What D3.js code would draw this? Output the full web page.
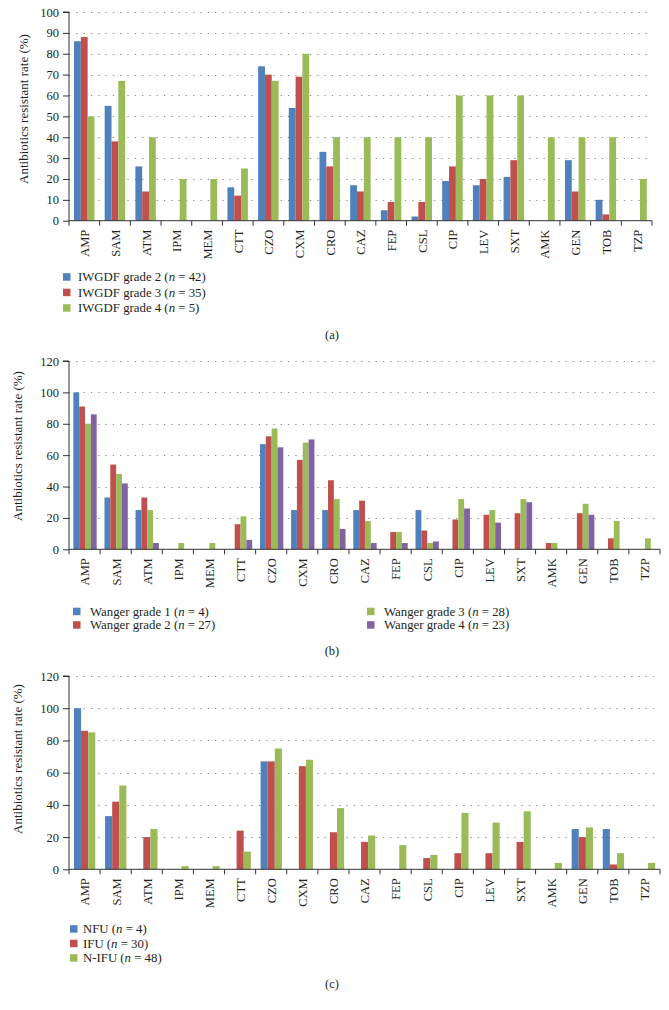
<!DOCTYPE html>
<html><head><meta charset="utf-8">
<script src="https://cdn.jsdelivr.net/npm/d3@7"></script>
<style>body{margin:0;background:#fff}text{font-family:"Liberation Serif","Times New Roman",serif;fill:#231f20}</style>
</head><body><svg id="chart" width="669" height="1010"></svg>
<script>
const categories = ["AMP","SAM","ATM","IPM","MEM","CTT","CZO","CXM","CRO","CAZ","FEP","CSL","CIP","LEV","SXT","AMK","GEN","TOB","TZP"];

// Panel (a)
const aSeriesNames = ["IWGDF grade 2 (|n| = 42)","IWGDF grade 3 (|n| = 35)","IWGDF grade 4 (|n| = 5)"];
const aGrade2 = [86,55,26,0,0,16,74,54,33,17,5,2,19,17,21,0,29,10,0];
const aGrade3 = [88,38,14,0,0,12,70,69,26,14,9,9,26,20,29,0,14,3,0];
const aGrade4 = [50,67,40,20,20,25,67,80,40,40,40,40,60,60,60,40,40,40,20];
const aTicks = [0,10,20,30,40,50,60,70,80,90,100];

// Panel (b)
const bSeriesNames = ["Wanger grade 1 (|n| = 4)","Wanger grade 2 (|n| = 27)","Wanger grade 3 (|n| = 28)","Wanger grade 4 (|n| = 23)"];
const bGrade1 = [100,33,25,0,0,0,67,25,25,25,0,25,0,0,0,0,0,0,0];
const bGrade2 = [91,54,33,0,0,16,72,57,44,31,11,12,19,22,23,4,23,7,0];
const bGrade3 = [80,48,25,4,4,21,77,68,32,18,11,4,32,25,32,4,29,18,7];
const bGrade4 = [86,42,4,0,0,6,65,70,13,4,4,5,26,17,30,0,22,0,0];
const bTicks = [0,20,40,60,80,100,120];

// Panel (c)
const cSeriesNames = ["NFU (|n| = 4)","IFU (|n| = 30)","N-IFU (|n| = 48)"];
const cNFU = [100,33,0,0,0,0,67,0,0,0,0,0,0,0,0,0,25,25,0];
const cIFU = [86,42,20,0,0,24,67,64,23,17,0,7,10,10,17,0,20,3,0];
const cNIFU = [85,52,25,2,2,11,75,68,38,21,15,9,35,29,36,4,26,10,4];
const cTicks = [0,20,40,60,80,100,120];

const colors = ["#4f81bd","#c0504d","#9bbb59","#8064a2"];
const yTitle = "Antibiotics resistant rate (%)";

const svg = d3.select("#chart");
svg.append("rect").attr("width",669).attr("height",1010).attr("fill","#fff");

function legendText(sel, label){
  const parts = label.split("|");
  parts.forEach((p,i)=>{
    sel.append("tspan").text(p).attr("font-style", i===1 ? "italic" : "normal");
  });
}

function panel(cfg){
  const g = svg.append("g");
  const x = d3.scaleBand().domain(categories).range([cfg.left, cfg.right]);
  const y = d3.scaleLinear().domain([0, cfg.max]).range([cfg.bottom, cfg.top]);
  // grid
  g.selectAll("line.grid").data(cfg.ticks.filter(t=>t>0)).join("line")
    .attr("x1", cfg.left).attr("x2", cfg.gridEnd)
    .attr("y1", d=>Math.round(y(d))+0.5).attr("y2", d=>Math.round(y(d))+0.5)
    .attr("stroke","#8a8a8a").attr("stroke-width",1).attr("stroke-dasharray","1.3,6");
  // bars
  const n = cfg.series.length;
  const bw = x.bandwidth()*cfg.frac/n;
  cfg.series.forEach((vals, si)=>{
    g.selectAll(null).data(vals.map((v,i)=>({c:categories[i],v}))).join("rect")
      .attr("x", d=>x(d.c)+x.bandwidth()*cfg.off + si*bw)
      .attr("width", bw)
      .attr("y", d=>y(d.v))
      .attr("height", d=>cfg.bottom - y(d.v))
      .attr("fill", colors[si]);
  });
  // y axis
  const yAxis = d3.axisLeft(y).tickValues(cfg.ticks).tickSize(6).tickPadding(4);
  const ya = g.append("g").attr("transform",`translate(${cfg.left},0)`).call(yAxis);
  ya.select(".domain").attr("stroke","#333").attr("d",`M-6,${y(cfg.max)}H0V${cfg.bottom}`);
  ya.selectAll(".tick line").attr("stroke","#333");
  ya.selectAll(".tick text").attr("font-size",12.5).attr("font-family","Liberation Serif").attr("fill","#231f20");
  // x axis
  const bounds = categories.map(c=>x(c)).concat([cfg.right]);
  g.append("line").attr("x1",cfg.left).attr("x2",cfg.right).attr("y1",cfg.bottom).attr("y2",cfg.bottom).attr("stroke","#333");
  g.selectAll(null).data(bounds).join("line")
    .attr("x1",d=>d).attr("x2",d=>d).attr("y1",cfg.bottom).attr("y2",cfg.bottom+5).attr("stroke","#333");
  g.selectAll(null).data(categories).join("text")
    .attr("transform", d=>`translate(${x(d)+x.bandwidth()/2+0.5},${cfg.bottom+9}) rotate(-90)`)
    .attr("text-anchor","end").attr("dy","0.35em").attr("font-size",12.5).text(d=>d);
  // y title
  g.append("text").attr("transform",`translate(${cfg.titleX},${cfg.titleY}) rotate(-90)`)
    .attr("text-anchor","middle").attr("dy","0.35em").attr("font-size",13).text(yTitle);
  // legend
  cfg.names.forEach((nm,i)=>{
    const p = cfg.legendPos[i];
    g.append("rect").attr("x",p[0]).attr("y",p[1]-3.8).attr("width",7.5).attr("height",7.5).attr("fill",colors[i]);
    const t = g.append("text").attr("x",p[0]+cfg.legendTextDx).attr("y",p[1]).attr("dy","0.35em").attr("font-size",12.8);
    legendText(t, nm);
  });
  g.append("text").attr("x",332).attr("y",cfg.capY).attr("dy","0.35em").attr("text-anchor","middle").attr("font-size",12.5).text(cfg.cap);
}

panel({series:[aGrade2,aGrade3,aGrade4], names:aSeriesNames, ticks:aTicks, max:100,
  top:12, bottom:220.7, left:69, right:652, gridEnd:647, frac:0.667, off:0.163,
  titleX:23, titleY:109, legendPos:[[63,277],[63,292.5],[63,308]], legendTextDx:15, cap:"(a)", capY:335});
panel({series:[bGrade1,bGrade2,bGrade3,bGrade4], names:bSeriesNames, ticks:bTicks, max:120,
  top:361, bottom:549.3, left:69, right:660, gridEnd:655, frac:0.75, off:0.14,
  titleX:17, titleY:446, legendPos:[[73,611.5],[73,625],[367,611.5],[367,625]], legendTextDx:17, cap:"(b)", capY:651});
panel({series:[cNFU,cIFU,cNIFU], names:cSeriesNames, ticks:cTicks, max:120,
  top:676, bottom:869.3, left:69, right:660, gridEnd:655, frac:0.685, off:0.16,
  titleX:17, titleY:759, legendPos:[[70,929],[70,943.5],[70,958]], legendTextDx:13, cap:"(c)", capY:984});
</script></body></html>
